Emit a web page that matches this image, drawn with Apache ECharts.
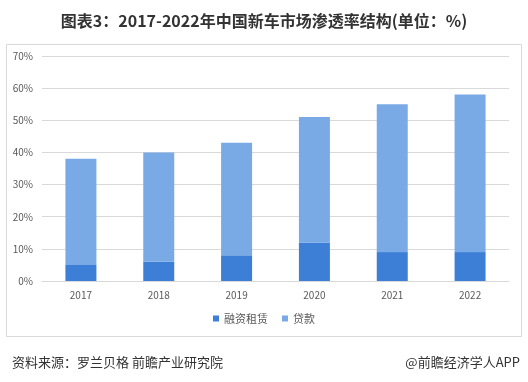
<!DOCTYPE html>
<html>
<head>
<meta charset="utf-8">
<script src="https://cdn.jsdelivr.net/npm/echarts@6/dist/echarts.min.js"></script>
<style>
html,body{margin:0;padding:0;background:#fff;}
#c{width:528px;height:382px;}
</style>
</head>
<body>
<div id="c"></div>
<script>
var categories = ['2017', '2018', '2019', '2020', '2021', '2022'];
var leasing = [5, 6, 8, 12, 9, 9];        // 融资租赁
var loans = [33, 34, 35, 39, 46, 49];     // 贷款
var yTicks = [0, 10, 20, 30, 40, 50, 60, 70];

var chart = echarts.init(document.getElementById('c'));
var cjk = '"Noto Sans CJK SC", "Microsoft YaHei", sans-serif';
chart.setOption({
  animation: false,
  backgroundColor: '#fff',
  title: [
    {text: '图表3：2017-2022年中国新车市场渗透率结构(单位：%)', left: 'center', top: 8,
     textStyle: {fontFamily: cjk, fontSize: 16, fontWeight: 'bold', color: '#333'}},
    {text: '资料来源：罗兰贝格 前瞻产业研究院', left: 7, top: 351,
     textStyle: {fontFamily: cjk, fontSize: 13, fontWeight: 'normal', color: '#333'}},
    {text: '@前瞻经济学人APP', right: 3, top: 351,
     textStyle: {fontFamily: cjk, fontSize: 13, fontWeight: 'normal', color: '#333'}}
  ],
  graphic: [{type: 'rect', shape: {x: 6.5, y: 44.5, width: 515, height: 292},
    style: {fill: 'none', stroke: '#d9d9d9', lineWidth: 1}, silent: true}],
  legend: {
    data: ['融资租赁', '贷款'], bottom: 53, left: 'center',
    icon: 'rect', itemWidth: 6, itemHeight: 6, itemGap: 14,
    textStyle: {fontFamily: cjk, fontSize: 11, color: '#595959'}
  },
  grid: {left: 42, right: 19, top: 56, bottom: 101},
  xAxis: {
    type: 'category', data: categories,
    axisLine: {lineStyle: {color: '#d9d9d9'}},
    axisTick: {show: false},
    axisLabel: {fontFamily: cjk, fontSize: 10, color: '#595959', margin: 9}
  },
  yAxis: {
    type: 'value', min: yTicks[0], max: yTicks[yTicks.length - 1], interval: 10,
    axisLine: {show: false}, axisTick: {show: false},
    splitLine: {lineStyle: {color: '#d9d9d9'}},
    axisLabel: {fontFamily: cjk, fontSize: 10, color: '#595959', margin: 9,
      formatter: function (v) { return v + '%'; }}
  },
  series: [
    {name: '融资租赁', type: 'bar', stack: 'a', data: leasing, barWidth: 31,
     itemStyle: {color: '#3d7fd7'}},
    {name: '贷款', type: 'bar', stack: 'a', data: loans, barWidth: 31,
     itemStyle: {color: '#7aaae6'}}
  ]
});
</script>
</body>
</html>
